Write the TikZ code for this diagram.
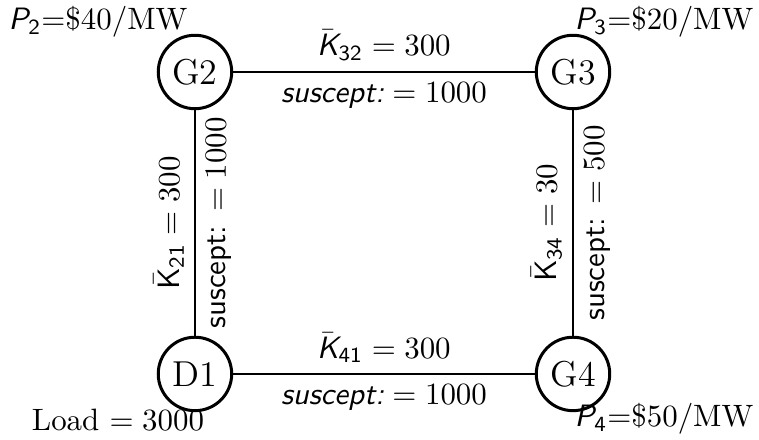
\RequirePackage{fix-cm}
\documentclass[tikz,border=0pt]{standalone}
\usepackage{amsmath}
\usepackage{fontspec}
\usetikzlibrary{positioning}
\newcommand{\sfit}[1]{\textsf{\itshape #1}}
\begin{document}
\begin{tikzpicture}[font=\fontsize{10.3pt}{12.5pt}\selectfont,
  bus/.style={circle,draw,line width=1pt,minimum size=0.86cm,inner sep=0pt,
    font=\fontsize{12pt}{14pt}\selectfont},
  line/.style={line width=0.7pt}]
\useasboundingbox (0,0) rectangle (8.888,5.152);
\node[bus] (G2) at (2.283,4.309) {G2};
\node[bus] (G3) at (6.710,4.309) {G3};
\node[bus] (D1) at (2.283,0.773) {D1};
\node[bus] (G4) at (6.710,0.773) {G4};
\draw[line] (G2) -- node[above] (k32) {$\bar{\sfit{K}}_{\textsf{32}} = 300$}
  node[below] (s32) {$\sfit{suscept:} = 1000$} (G3);
\draw[line] (D1) -- node[above] (k41) {$\bar{\sfit{K}}_{\textsf{41}} = 300$}
  node[below] (s41) {$\sfit{suscept:} = 1000$} (G4);
\draw[line] (D1) -- node[above,sloped] (k21) {$\bar{\textsf{K}}_{\textsf{21}} = 300$}
  node[below,sloped] (s21) {$\textsf{suscept:}\,= 1000$} (G2);
\draw[line] (G4) -- node[above,sloped] (k34) {$\bar{\textsf{K}}_{\textsf{34}} = 30$}
  node[below,sloped] (s34) {$\textsf{suscept:}\,= 500$} (G3);
% prices and load
\node (p2) at (1.148,4.895) {$\sfit{P}_{\textsf{2}}$=\$40/MW};
\node (p3) at (7.775,4.895) {$\sfit{P}_{\textsf{3}}$=\$20/MW};
\node (p4) at (7.775,0.246) {$\sfit{P}_{\textsf{4}}$=\$50/MW};
\node (load) at (1.382,0.234) {Load $= 3000$};
\end{tikzpicture}
\end{document}
